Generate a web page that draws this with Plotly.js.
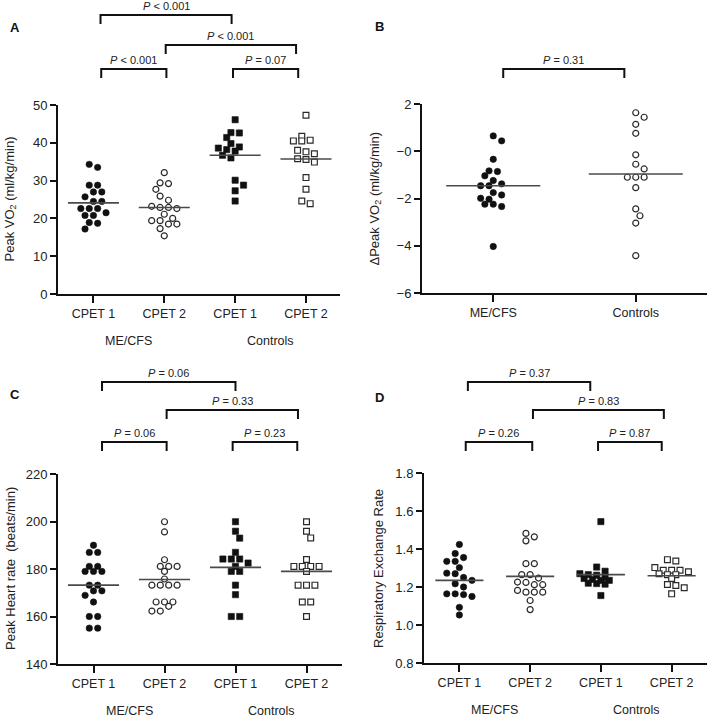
<!DOCTYPE html>
<html><head><meta charset="utf-8">
<script src="https://cdn.plot.ly/plotly-3.0.1.min.js"></script>
<style>html,body{margin:0;padding:0;background:#fff}</style>
</head><body><div id="chart" style="width:709px;height:720px"></div>
<script>
// ---------------- DATA ----------------
const cpetTicks = ["CPET 1", "CPET 2", "CPET 1", "CPET 2"];
const groupLabels = ["ME/CFS", "Controls"];

// A: Peak VO2 (ml/kg/min)
const vo2_mecfs_cpet1 = [34.3, 33.5, 28.8, 28.8, 27.0, 27.0, 25.7, 24.5, 24.5, 22.6, 22.6, 22.6, 21.5, 20.8, 20.8, 18.9, 18.7, 17.2];
const vo2_mecfs_cpet2 = [32.1, 29.4, 29.2, 27.7, 25.9, 24.8, 23.2, 22.9, 22.9, 22.6, 21.1, 20.0, 19.4, 19.4, 18.5, 18.5, 17.3, 15.4];
const vo2_ctrl_cpet1 = [46.1, 42.7, 42.6, 41.4, 39.8, 38.9, 38.6, 38.2, 37.8, 36.7, 36.0, 30.1, 28.8, 27.3, 24.6];
const vo2_ctrl_cpet2 = [47.3, 41.7, 40.5, 40.5, 40.7, 37.1, 37.6, 38.0, 35.6, 34.9, 35.8, 30.8, 27.7, 23.9, 24.6];
const vo2_means = [24.1, 22.9, 36.7, 35.7];
const vo2_p = ["< 0.001", "< 0.001", "< 0.001", "= 0.07"]; // top, middle, low-left, low-right

// B: Delta Peak VO2
const dvo2_mecfs = [0.65, 0.44, -0.34, -0.83, -0.86, -1.04, -1.24, -1.38, -1.46, -1.46, -1.75, -1.85, -2.03, -1.99, -2.24, -2.34, -2.24, -4.03];
const dvo2_ctrl = [1.63, 1.44, 1.14, 0.76, -0.15, -0.55, -0.75, -1.10, -1.10, -1.10, -1.54, -2.44, -2.73, -3.04, -4.42];
const dvo2_means = [-1.46, -0.96];
const dvo2_tickvals = [-6, -4, -2, 0, 2];
const dvo2_ticktext = ["\u22126", "\u22124", "\u22122", "\u22120", "2"];
const dvo2_p = ["= 0.31"];

// C: Peak heart rate (beats/min)
const hr_mecfs_cpet1 = [190, 187, 187, 181.1, 181.1, 179, 179, 179, 173.2, 173.2, 170.8, 170.8, 168.9, 166.1, 160, 160, 155.1, 155.1];
const hr_mecfs_cpet2 = [199.9, 195.6, 183.9, 181.1, 181.1, 181.1, 179.0, 175.8, 173.2, 173.2, 173.2, 173.2, 166.1, 166.1, 166.1, 164.3, 162.3, 162.3];
const hr_ctrl_cpet1 = [199.9, 195.9, 193.0, 187.0, 184.2, 184.2, 184.2, 182.5, 181.1, 179, 179, 173.2, 169.2, 160, 160];
const hr_ctrl_cpet2 = [199.9, 195.9, 193.1, 184.0, 181.1, 181.1, 181.1, 181.1, 179.0, 173.2, 173.2, 173.2, 166.1, 166.1, 160];
const hr_means = [173.2, 175.6, 180.7, 179.0];
const hr_p = ["= 0.06", "= 0.33", "= 0.06", "= 0.23"];

// D: Respiratory exchange rate
const rer_mecfs_cpet1 = [1.424, 1.376, 1.355, 1.335, 1.335, 1.302, 1.273, 1.270, 1.250, 1.235, 1.217, 1.200, 1.164, 1.164, 1.150, 1.160, 1.093, 1.053];
const rer_mecfs_cpet2 = [1.482, 1.464, 1.443, 1.323, 1.323, 1.265, 1.247, 1.265, 1.226, 1.212, 1.212, 1.224, 1.173, 1.173, 1.182, 1.173, 1.129, 1.081];
const rer_ctrl_cpet1 = [1.544, 1.305, 1.283, 1.270, 1.265, 1.262, 1.250, 1.245, 1.240, 1.235, 1.235, 1.220, 1.218, 1.215, 1.155];
const rer_ctrl_cpet2 = [1.344, 1.337, 1.302, 1.288, 1.288, 1.288, 1.280, 1.270, 1.265, 1.265, 1.245, 1.213, 1.208, 1.196, 1.164];
const rer_means = [1.235, 1.256, 1.265, 1.259];
const rer_p = ["= 0.37", "= 0.83", "= 0.26", "= 0.87"];

// ---------------- LAYOUT HELPERS ----------------
const W = 709, H = 720;
const FONT = "Liberation Sans, Arial, sans-serif";
const px2py = p => 1 - p / H;   // pixel row -> paper y
const px2px = p => p / W;       // pixel col -> paper x
const D = 8.4;                  // swarm spacing (px)

function swarm(vals, pxX, pxY) {
  const idx = vals.map((v, i) => i).sort((a, b) => vals[b] - vals[a]);
  const rows = []; let cur = null;
  idx.forEach(i => {
    if (cur && (vals[cur[0]] - vals[i]) * pxY < D * 0.5) cur.push(i);
    else { cur = [i]; rows.push(cur); }
  });
  const off = new Array(vals.length).fill(0);
  const placed = [];
  rows.forEach(row => {
    const n = row.length;
    const base = row.map((_, k) => (k - (n - 1) / 2) * D);
    let best = null, bestMd = -1;
    for (const s of [0, D / 2, -D / 2, D, -D]) {
      const xs = base.map(b => b + s);
      let md = Infinity;
      row.forEach((i, k) => placed.forEach(p => {
        md = Math.min(md, Math.hypot(xs[k] - p.x, (vals[i] - p.v) * pxY));
      }));
      if (md >= D * 0.85) { best = xs; break; }
      if (md > bestMd) { bestMd = md; best = xs; }
    }
    row.forEach((i, k) => { off[i] = best[k] / pxX; placed.push({ x: best[k], v: vals[i] }); });
  });
  return off;
}

const styles = [
  { symbol: "circle", color: "#111", line: "#111", size: 6.4, lw: 0.6 },
  { symbol: "circle", color: "#fff", line: "#2a2a2a", size: 6.0, lw: 1.2 },
  { symbol: "square", color: "#111", line: "#111", size: 6.2, lw: 0.6 },
  { symbol: "square", color: "#fff", line: "#2a2a2a", size: 5.8, lw: 1.2 }
];

const panels = [
  { n: "", xd: [58, 340], yd: [105, 294], xr: [-0.5, 3.48], yr: [0, 50],
    series: [vo2_mecfs_cpet1, vo2_mecfs_cpet2, vo2_ctrl_cpet1, vo2_ctrl_cpet2], sty: [0, 1, 2, 3],
    means: vo2_means, hw: 0.36, ticks: [0, 10, 20, 30, 40, 50], ticktext: null, xt: cpetTicks,
    groups: [[0.5, groupLabels[0]], [2.5, groupLabels[1]]],
    title: "Peak VO<sub>2</sub> (ml/kg/min)", titleX: 10, letter: ["A", 8, 28],
    br: [[0.10, 1.95, 15, vo2_p[0]], [1.02, 2.86, 45, vo2_p[1]], [0.11, 1.03, 69, vo2_p[2]], [1.97, 2.89, 69, vo2_p[3]]] },
  { n: "2", xd: [422, 707], yd: [104, 293], xr: [-0.5, 1.5], yr: [-6, 2],
    series: [dvo2_mecfs, dvo2_ctrl], sty: [0, 1],
    means: dvo2_means, hw: 0.33, ticks: dvo2_tickvals, ticktext: dvo2_ticktext, xt: groupLabels,
    groups: [],
    title: "\u0394Peak VO<sub>2</sub> (ml/kg/min)", titleX: 375, letter: ["B", 373, 27],
    br: [[0.07, 0.92, 69, dvo2_p[0]]] },
  { n: "3", xd: [58, 342], yd: [474, 664], xr: [-0.5, 3.5], yr: [140, 220],
    series: [hr_mecfs_cpet1, hr_mecfs_cpet2, hr_ctrl_cpet1, hr_ctrl_cpet2], sty: [0, 1, 2, 3],
    means: hr_means, hw: 0.36, ticks: [140, 160, 180, 200, 220], ticktext: null, xt: cpetTicks,
    groups: [[0.5, groupLabels[0]], [2.5, groupLabels[1]]],
    title: "Peak Heart rate  (beats/min)", titleX: 10, letter: ["C", 8, 394],
    br: [[0.12, 2.0, 382, hr_p[0]], [1.03, 2.88, 410, hr_p[1]], [0.12, 1.03, 442, hr_p[2]], [1.96, 2.87, 442, hr_p[3]]] },
  { n: "4", xd: [424, 707], yd: [473, 663], xr: [-0.5, 3.5], yr: [0.8, 1.8],
    series: [rer_mecfs_cpet1, rer_mecfs_cpet2, rer_ctrl_cpet1, rer_ctrl_cpet2], sty: [0, 1, 2, 3],
    means: rer_means, hw: 0.34, ticks: [0.8, 1.0, 1.2, 1.4, 1.6, 1.8], ticktext: ["0.8", "1.0", "1.2", "1.4", "1.6", "1.8"], xt: cpetTicks,
    groups: [[0.5, groupLabels[0]], [2.5, groupLabels[1]]],
    title: "Respiratory Exchange Rate", titleX: 378, letter: ["D", 373, 397],
    br: [[0.12, 1.85, 382, rer_p[0]], [1.04, 2.89, 410, rer_p[1]], [0.09, 1.03, 442, rer_p[2]], [1.96, 2.86, 442, rer_p[3]]] }
];

const traces = [];
const layout = {
  width: W, height: H, margin: { l: 0, r: 0, t: 0, b: 0 },
  paper_bgcolor: "#fff", plot_bgcolor: "#fff", showlegend: false,
  font: { family: FONT, color: "#222" },
  shapes: [], annotations: []
};

panels.forEach(P => {
  const xa = "x" + P.n, ya = "y" + P.n;
  const pxX = (P.xd[1] - P.xd[0]) / (P.xr[1] - P.xr[0]);
  const pxY = (P.yd[1] - P.yd[0]) / (P.yr[1] - P.yr[0]);
  P.series.forEach((vals, si) => {
    const st = styles[P.sty[si]];
    const off = swarm(vals, pxX, pxY);
    traces.push({
      type: "scatter", mode: "markers", xaxis: xa, yaxis: ya, cliponaxis: false,
      x: vals.map((v, i) => si + off[i]), y: vals,
      marker: { symbol: st.symbol, size: st.size, color: st.color, line: { color: st.line, width: st.lw } },
      hoverinfo: "skip"
    });
  });
  P.means.forEach((m, i) => {
    traces.push({
      type: "scatter", mode: "lines", xaxis: xa, yaxis: ya, cliponaxis: false,
      x: [i - P.hw, i + P.hw], y: [m, m], line: { color: "#4a4a4a", width: 1.6 }, hoverinfo: "skip"
    });
  });
  const xk = "xaxis" + P.n, yk = "yaxis" + P.n;
  layout[xk] = {
    domain: [px2px(P.xd[0]), px2px(P.xd[1])], range: P.xr, anchor: ya,
    showline: true, linecolor: "#111", linewidth: 2, ticks: "outside", ticklen: 7, tickwidth: 2, tickcolor: "#111",
    showgrid: false, zeroline: false, tickvals: P.xt.map((_, i) => i), ticktext: P.xt,
    tickfont: { family: FONT, size: 12.5, color: "#222" }, fixedrange: true
  };
  layout[yk] = {
    domain: [px2py(P.yd[1]), px2py(P.yd[0])], range: P.yr, anchor: xa,
    showline: true, linecolor: "#111", linewidth: 2, ticks: "outside", ticklen: 6, tickwidth: 2, tickcolor: "#111",
    showgrid: false, zeroline: false, tickvals: P.ticks, ticktext: P.ticktext || P.ticks.map(String),
    tickfont: { family: FONT, size: 13, color: "#222" }, fixedrange: true
  };
  P.groups.forEach(g => layout.annotations.push({
    xref: xa, yref: "paper", x: g[0], y: px2py(P.yd[1] + 47), text: g[1], showarrow: false,
    font: { family: FONT, size: 12.5, color: "#222" }, xanchor: "center", yanchor: "middle"
  }));
  layout.annotations.push({
    xref: "paper", yref: "paper", x: px2px(P.titleX), y: px2py((P.yd[0] + P.yd[1]) / 2),
    text: P.title, textangle: -90, showarrow: false, font: { family: FONT, size: 13, color: "#222" },
    xanchor: "center", yanchor: "middle"
  });
  layout.annotations.push({
    xref: "paper", yref: "paper", x: px2px(P.letter[1]), y: px2py(P.letter[2]), text: "<b>" + P.letter[0] + "</b>",
    showarrow: false, font: { family: FONT, size: 13, color: "#111" }, xanchor: "left", yanchor: "middle"
  });
  P.br.forEach(b => {
    const yT = px2py(b[2]), yB = px2py(b[2] + 9);
    layout.shapes.push({
      type: "path", xref: xa, yref: "paper",
      path: `M ${b[0]},${yB} L ${b[0]},${yT} L ${b[1]},${yT} L ${b[1]},${yB}`,
      line: { color: "#111", width: 2 }
    });
    layout.annotations.push({
      xref: xa, yref: "paper", x: (b[0] + b[1]) / 2, y: px2py(b[2] - 9),
      text: "<i>P</i> " + b[3].replace("<", "&lt;"), showarrow: false,
      font: { family: FONT, size: 11, color: "#222" }, xanchor: "center", yanchor: "middle"
    });
  });
});

Plotly.newPlot("chart", traces, layout, { staticPlot: true, displayModeBar: false });
</script></body></html>
